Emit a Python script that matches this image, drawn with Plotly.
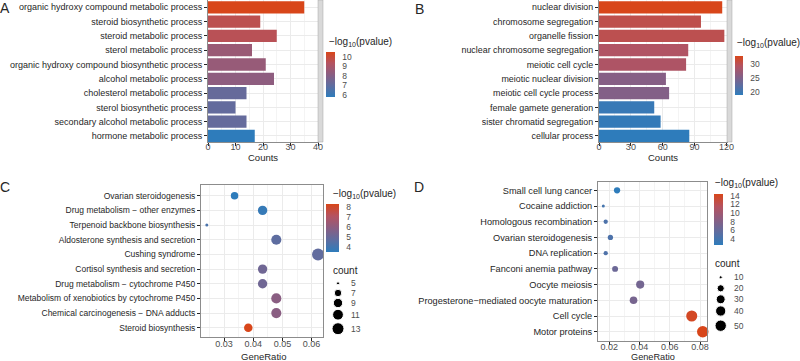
import math
import plotly.graph_objects as go

W, H = 800, 361

# ---------------- data ----------------
a_terms = ["organic hydroxy compound metabolic process", "steroid biosynthetic process",
           "steroid metabolic process", "sterol metabolic process",
           "organic hydroxy compound biosynthetic process", "alcohol metabolic process",
           "cholesterol metabolic process", "sterol biosynthetic process",
           "secondary alcohol metabolic process", "hormone metabolic process"]
a_counts = [35, 19, 25, 16, 21, 24, 14, 10, 14, 17]
a_logp = [10.5, 9.6, 9.5, 8.6, 8.5, 8.25, 7.2, 7.1, 7.15, 5.8]

b_terms = ["nuclear division", "chromosome segregation", "organelle fission",
           "nuclear chromosome segregation", "meiotic cell cycle", "meiotic nuclear division",
           "meiotic cell cycle process", "female gamete generation",
           "sister chromatid segregation", "cellular process"]
b_counts = [116, 96, 118, 84, 82, 63, 66, 52, 58, 85]
b_logp = [33.0, 30.5, 30.3, 29.2, 29.0, 25.6, 25.4, 19.6, 19.3, 18.9]

c_terms = ["Ovarian steroidogenesis", "Drug metabolism − other enzymes",
           "Terpenoid backbone biosynthesis", "Aldosterone synthesis and secretion",
           "Cushing syndrome", "Cortisol synthesis and secretion",
           "Drug metabolism − cytochrome P450", "Metabolism of xenobiotics by cytochrome P450",
           "Chemical carcinogenesis − DNA adducts", "Steroid biosynthesis"]
c_ratio = [0.0336, 0.0432, 0.0241, 0.0479, 0.0622, 0.0432, 0.0432, 0.0479, 0.0479, 0.0383]
c_count = [7, 9, 5, 10, 13, 9, 9, 10, 10, 8]
c_logp = [3.5, 3.7, 4.2, 4.7, 4.8, 5.2, 5.2, 5.9, 5.9, 8.3]

d_terms = ["Small cell lung cancer", "Cocaine addiction", "Homologous recombination",
           "Ovarian steroidogenesis", "DNA replication", "Fanconi anemia pathway",
           "Oocyte meiosis", "Progesterone−mediated oocyte maturation",
           "Cell cycle", "Motor proteins"]
d_ratio = [0.0251, 0.0160, 0.0176, 0.0207, 0.0176, 0.0238, 0.0404, 0.0360, 0.0745, 0.0818]
d_count = [16, 10, 11, 13, 11, 15, 25, 22, 47, 51]
d_logp = [2.6, 4.0, 4.5, 4.5, 4.6, 6.5, 7.0, 7.2, 14.0, 14.4]

a_ticks = [0, 10, 20, 30, 40]
b_ticks = [0, 30, 60, 90, 120]
c_ticks = [0.03, 0.04, 0.05, 0.06]
d_ticks = [0.02, 0.04, 0.06, 0.08]
a_cbar_ticks = [6, 7, 8, 9, 10]
b_cbar_ticks = [20, 25, 30]
c_cbar_ticks = [4, 5, 6, 7, 8]
d_cbar_ticks = [4, 6, 8, 10, 12, 14]
c_size_breaks = [5, 7, 9, 11, 13]
d_size_breaks = [10, 20, 30, 40, 50]

# ---------------- style helpers ----------------
def X(px):
    return px / W

def Y(py):
    return 1 - py / H

SCALE = [[0.0, "#2E7CBB"], [0.25, "#5E6DA0"], [0.5, "#8A5E82"],
         [0.75, "#B45361"], [1.0, "#D8461A"]]
TXT = "#262626"
NUM = "#4D4D4D"
GRID = "#EBEBEB"
BORDER = "#8C8C8C"
FONT = "Liberation Sans, Arial, sans-serif"


def size_map(c, cmin, cmax, dmin=3.0, dmax=12.0):
    return dmin + (dmax - dmin) * math.sqrt(max(c - cmin, 0) / (cmax - cmin))


fig = go.Figure()

# A bars
fig.add_trace(go.Bar(y=a_terms, x=a_counts, orientation="h", width=0.86,
                     marker=dict(color=a_logp, coloraxis="coloraxis", line=dict(width=0)),
                     xaxis="x", yaxis="y", showlegend=False))
# B bars
fig.add_trace(go.Bar(y=b_terms, x=b_counts, orientation="h", width=0.86,
                     marker=dict(color=b_logp, coloraxis="coloraxis2", line=dict(width=0)),
                     xaxis="x2", yaxis="y2", showlegend=False))
# C dots
fig.add_trace(go.Scatter(y=c_terms, x=c_ratio, mode="markers",
                         marker=dict(color=c_logp, coloraxis="coloraxis3",
                                     size=[size_map(c, 5, 13, 3, 12) for c in c_count],
                                     line=dict(width=0), opacity=1),
                         xaxis="x3", yaxis="y3", showlegend=False, cliponaxis=False))
# D dots
fig.add_trace(go.Scatter(y=d_terms, x=d_ratio, mode="markers",
                         marker=dict(color=d_logp, coloraxis="coloraxis4",
                                     size=[size_map(c, 10, 51, 3, 11.5) for c in d_count],
                                     line=dict(width=0), opacity=1),
                         xaxis="x4", yaxis="y4", showlegend=False, cliponaxis=False))

# size legend keys on overlay axis (pixel coordinates)
c_leg_y = [283.3, 293, 303, 314.7, 328.7]
d_leg_y = [277.3, 288.3, 299.3, 311, 325.7]
fig.add_trace(go.Scatter(x=[338] * 5, y=c_leg_y, mode="markers",
                         marker=dict(color="black", opacity=1,
                                     size=[size_map(c, 5, 13, 3, 12) for c in c_size_breaks]),
                         xaxis="x5", yaxis="y5", showlegend=False, hoverinfo="skip"))
fig.add_trace(go.Scatter(x=[720.7] * 5, y=d_leg_y, mode="markers",
                         marker=dict(color="black", opacity=1,
                                     size=[size_map(c, 10, 51, 3, 11.5) for c in d_size_breaks]),
                         xaxis="x5", yaxis="y5", showlegend=False, hoverinfo="skip"))


def xax(domain, rng, ticks, minor_dtick, anchor, standoff, fmt=None):
    return dict(domain=domain, range=rng, tickvals=ticks, anchor=anchor,
                ticktext=[fmt(t) if fmt else str(t) for t in ticks],
                showgrid=True, gridcolor=GRID, gridwidth=1,
                minor=dict(showgrid=True, gridcolor="#F4F4F4", gridwidth=0.5, dtick=minor_dtick,
                           tick0=0),
                zeroline=False, showline=True, linecolor=BORDER, linewidth=1, mirror=True,
                ticks="outside", ticklen=3, tickcolor=TXT, tickwidth=0.8,
                ticklabelstandoff=int(standoff),
                tickfont=dict(size=9, color=NUM, family=FONT), automargin=False, fixedrange=True)


def yax(domain, cats, rng, anchor, fsize):
    return dict(domain=domain, type="category", categoryorder="array", categoryarray=cats,
                range=rng, showgrid=True, gridcolor=GRID, gridwidth=1,
                zeroline=False, showline=True, linecolor=BORDER, linewidth=1, mirror=True,
                ticks="outside", ticklen=3, tickcolor=TXT, tickwidth=0.8,
                tickfont=dict(size=fsize, color=TXT, family=FONT), automargin=False,
                anchor=anchor, fixedrange=True)


def cbar(x0, ytop, length, thick, ticks):
    return dict(x=X(x0), xanchor="left", y=Y(ytop), yanchor="top",
                len=length, lenmode="pixels", thickness=thick, thicknessmode="pixels",
                outlinewidth=0, xpad=0, ypad=0, tickvals=ticks,
                ticks="outside", ticklen=6, tickcolor="rgba(0,0,0,0)",
                tickfont=dict(size=8.5, color=NUM, family=FONT), title=dict(text=""))


layout = dict(
    width=W, height=H, margin=dict(l=0, r=0, t=0, b=0),
    paper_bgcolor="white", plot_bgcolor="rgba(0,0,0,0)",
    font=dict(family=FONT, color=TXT),
    xaxis=xax([X(208), X(318)], [0, 40], a_ticks, 5, "y", -7),
    yaxis=yax([Y(142), Y(0)], a_terms, [9.42, -0.51], "x", 9.0),
    xaxis2=xax([X(599), X(727)], [0, 120.5], b_ticks, 15, "y2", -7),
    yaxis2=yax([Y(142), Y(0)], b_terms, [9.42, -0.51], "x2", 8.9),
    xaxis3=xax([X(201), X(323)], [0.0221, 0.0639], c_ticks, 0.005, "y3", -5, lambda t: f"{t:.2f}"),
    yaxis3=yax([Y(337), Y(185)], c_terms, [9.63, -0.73], "x3", 8.5),
    xaxis4=xax([X(598), X(707.3)], [0.0125, 0.0848], d_ticks, 0.01, "y4", -6, lambda t: f"{t:.2f}"),
    yaxis4=yax([Y(341), Y(181.7)], d_terms, [9.59, -0.55], "x4", 9.2),
    xaxis5=dict(domain=[0, 1], range=[0, W], visible=False, fixedrange=True, anchor="y5"),
    yaxis5=dict(domain=[0, 1], range=[H, 0], visible=False, anchor="x5", fixedrange=True),
    coloraxis=dict(cmin=5.8, cmax=10.5, colorscale=SCALE, colorbar=cbar(326, 52, 45, 9, a_cbar_ticks)),
    coloraxis2=dict(cmin=18.9, cmax=33.0, colorscale=SCALE, colorbar=cbar(735, 56, 39, 8, b_cbar_ticks)),
    coloraxis3=dict(cmin=3.5, cmax=8.3, colorscale=SCALE, colorbar=cbar(326, 204, 48, 13, c_cbar_ticks)),
    coloraxis4=dict(cmin=2.6, cmax=14.4, colorscale=SCALE, colorbar=cbar(714, 194, 51, 9, d_cbar_ticks)),
)
fig.update_layout(**layout)

# facet strips beside A and B
shapes = []
for x0, x1 in [(318, 323), (727, 732)]:
    shapes.append(dict(type="rect", xref="paper", yref="paper", x0=X(x0), x1=X(x1),
                       y0=Y(142), y1=Y(0), fillcolor="#D9D9D9",
                       line=dict(color="#A6A6A6", width=0.5), layer="above"))
fig.update_layout(shapes=shapes)

ann = []


def note(text, x, y, size, xanchor="center", color=TXT):
    ann.append(dict(text=text, x=X(x), y=Y(y), xref="paper", yref="paper",
                    xanchor=xanchor, yanchor="middle", showarrow=False,
                    font=dict(size=size, color=color, family=FONT)))


# panel letters
note("A", 5, 8, 14)
note("B", 419, 9, 14)
note("C", 5, 187, 14)
note("D", 419, 187, 14)
# axis titles
note("Counts", 263, 157, 9.5)
note("Counts", 663, 157, 9.5)
note("GeneRatio", 263, 356, 9.5)
note("GeneRatio", 653, 356.5, 9.2)
# legend titles
lt = "−log<sub>10</sub>(pvalue)"
note(lt, 327, 42, 10, "left")
note(lt, 735, 43, 10, "left")
note(lt, 331, 194, 10, "left")
note(lt, 713, 183, 10, "left")
note("count", 331, 270, 10, "left")
note("count", 713, 263, 10, "left")
# size legend labels
for v, yy in zip(c_size_breaks, c_leg_y):
    note(str(v), 349, yy, 8.5, "left", NUM)
for v, yy in zip(d_size_breaks, d_leg_y):
    note(str(v), 732, yy, 8.5, "left", NUM)
fig.update_layout(annotations=ann)

fig.write_html("out.html", config={"displayModeBar": False},
               post_script="document.body.style.margin='0px';")
